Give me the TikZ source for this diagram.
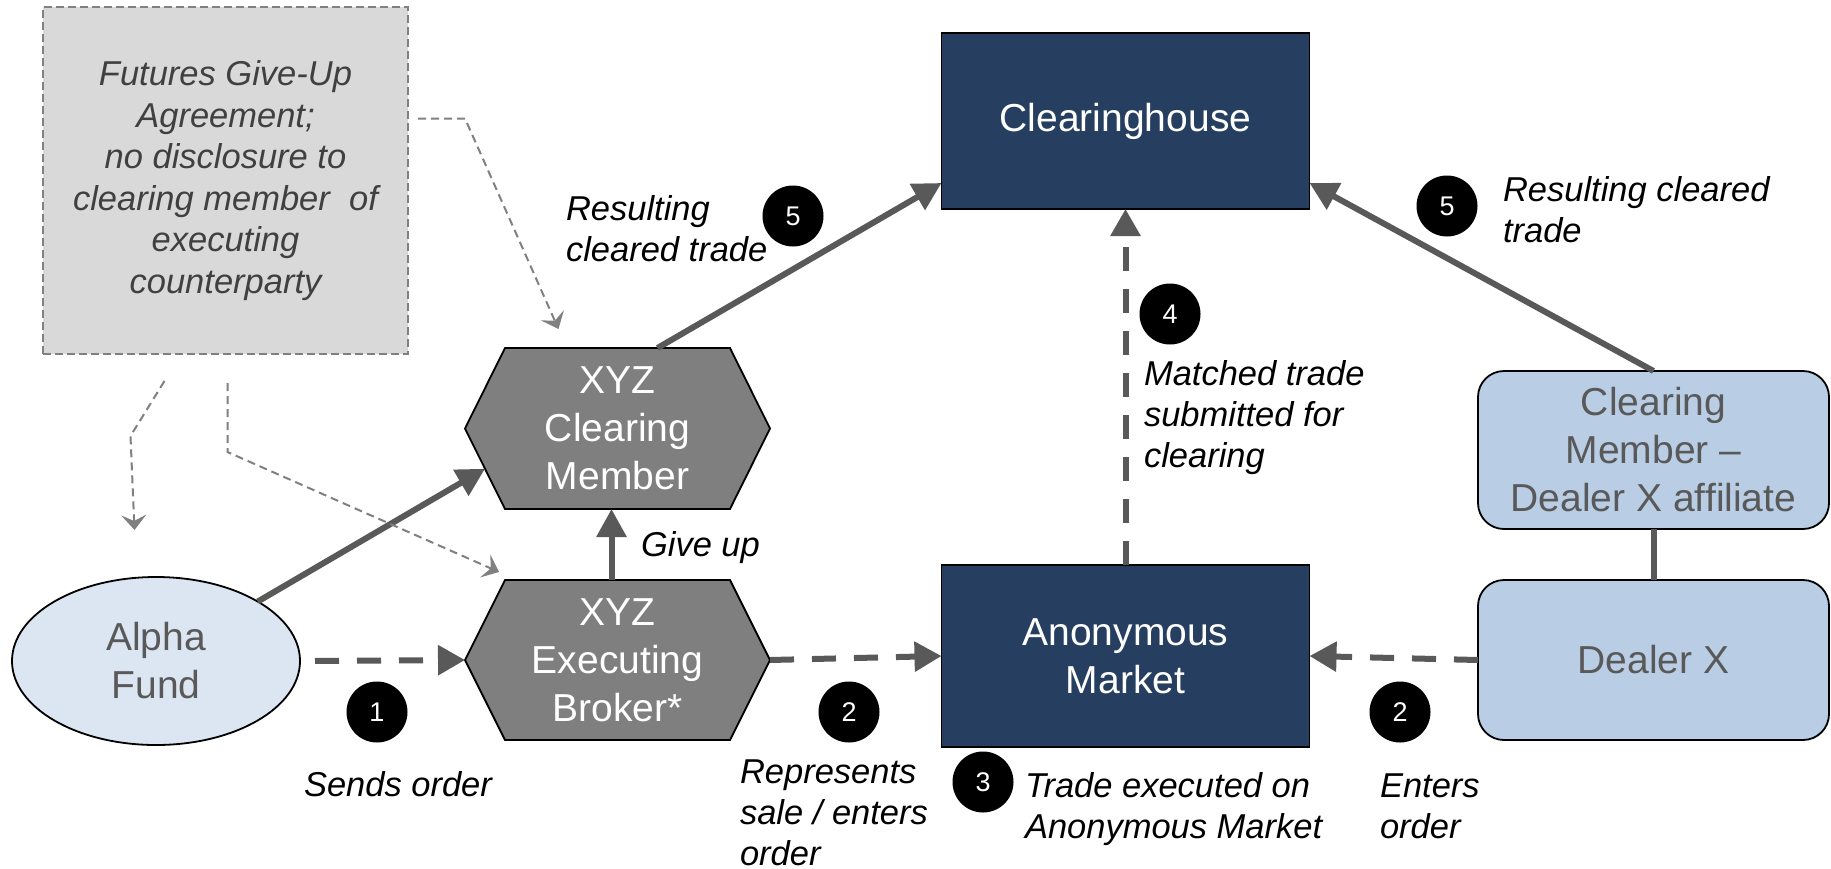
\documentclass[tikz,border=0pt]{standalone}
\usepackage{fontspec}
\setmainfont{Liberation Sans}
\usetikzlibrary{arrows.meta,calc,backgrounds,shapes.geometric}
\definecolor{navy}{RGB}{38,63,96}
\definecolor{hexgray}{RGB}{127,127,127}
\definecolor{linegray}{RGB}{89,89,89}
\definecolor{lightblue}{RGB}{185,205,229}
\definecolor{paleblue}{RGB}{220,230,242}
\definecolor{boxgray}{RGB}{217,217,217}
\definecolor{textgray}{RGB}{89,89,89}
\definecolor{agrtext}{RGB}{64,64,64}
\definecolor{thingray}{RGB}{128,128,128}
\begin{document}
\begin{tikzpicture}[x=1pt,y=-1pt,
  every node/.style={inner sep=0pt, outer sep=0pt},
  nodefont/.style={font=\fontsize{39}{48}\selectfont},
  labfont/.style={font=\fontsize{34.5}{41}\selectfont\itshape},
  darkbox/.style={draw=black, line width=1.8pt, fill=navy, text=white, nodefont, align=center},
  lbbox/.style={draw=black, line width=1.8pt, fill=lightblue, text=textgray, rounded corners=26pt, nodefont, align=center},
  hexspace/.style={minimum width=305pt, minimum height=161pt, text=white, nodefont, align=center},
  hexdraw/.style={draw=black, line width=1.8pt, fill=hexgray},
  numdot/.style={circle, fill=black, text=white, minimum size=61pt, font=\fontsize{27}{27}\selectfont},
  lab/.style={labfont, align=left, anchor=west, text=black},
  thicksolid/.style={draw=linegray, line width=6pt, -{Triangle[length=28pt,width=29pt]}},
  thickdash/.style={draw=linegray, line width=6pt, dash pattern=on 24pt off 18pt, -{Triangle[length=27pt,width=29pt]}},
  thindash/.style={draw=thingray, line width=2pt, dash pattern=on 8pt off 5pt, -{Stealth[length=15pt,width=25pt,inset=6pt]}},
]
\useasboundingbox (0,0) rectangle (1831,868);

% agreement box
\node[draw=thingray, line width=2pt, dash pattern=on 8pt off 4pt, fill=boxgray,
      minimum width=365pt, minimum height=347pt, text=agrtext, align=center,
      font=\fontsize{34.5}{41.5}\selectfont\itshape] (agr) at (225.5,180.5)
  {Futures Give-Up\\Agreement;\\no disclosure to\\clearing member~ of\\executing\\counterparty};

% main nodes
\node[darkbox, minimum width=368pt, minimum height=176pt] (ch) at (1125.5,121) {\raisebox{-3.5pt}{Clearinghouse}};
\node[darkbox, minimum width=368pt, minimum height=182pt] (am) at (1125.5,656) {Anonymous\\Market};
\node[lbbox, minimum width=351pt, minimum height=158pt] (cmd) at (1653.5,450) {Clearing\\Member --\\Dealer X affiliate};
\node[lbbox, minimum width=351pt, minimum height=160pt] (dx) at (1653.5,660) {Dealer X};
\node[ellipse, draw=black, line width=1.8pt, fill=paleblue, minimum width=288pt, minimum height=168pt,
      text=textgray, nodefont, align=center] (af) at (156,661) {Alpha\\Fund};
\node[hexspace] (cm) at (617.5,428.5) {XYZ\\Clearing\\Member};
\node[hexspace, minimum height=160pt] (eb) at (617.5,660) {XYZ\\Executing\\Broker*};

\begin{scope}[on background layer]
  \draw[hexdraw] (cm.west) -- ([xshift=40pt]cm.north west) -- ([xshift=-40pt]cm.north east)
    -- (cm.east) -- ([xshift=-40pt]cm.south east) -- ([xshift=40pt]cm.south west) -- cycle;
  \draw[hexdraw] (eb.west) -- ([xshift=40pt]eb.north west) -- ([xshift=-40pt]eb.north east)
    -- (eb.east) -- ([xshift=-40pt]eb.south east) -- ([xshift=40pt]eb.south west) -- cycle;
\end{scope}

% connectors
\coordinate (cmin) at ($(cm.west)!0.5!([xshift=40pt]cm.south west)$);
\draw[thickdash, shorten <=15pt] (af.east) -- (eb.west);
\draw[thicksolid] (af) -- (cmin);
\draw[thicksolid] ([xshift=-6pt]eb.north) -- ([xshift=-6pt]cm.south);
\draw[thickdash] (eb.east) -- (am.west);
\draw[thickdash] (dx.west) -- (am.east);
\draw[thickdash] (am.north) -- (ch.south);
\draw[thicksolid] ([xshift=40pt]cm.north) -- ([yshift=26pt]ch.south west);
\draw[thicksolid] (cmd.north) -- ([yshift=26pt]ch.south east);
\draw[draw=linegray, line width=6pt] (cmd.south) -- (dx.north);

% thin dashed pointers from agreement
\draw[thindash] ([xshift=10pt,yshift=62pt]agr.east) -- ++(47,0) -- ([xshift=-59pt,yshift=19pt]cm.north);
\draw[thindash] ([xshift=-61pt,yshift=-27pt]agr.south) -- ++(-34,55) -- ++(4,94);
\draw[thindash] ([xshift=2pt,yshift=-29pt]agr.south) -- ++(0,69) -- ([xshift=34pt,yshift=8pt]eb.north west);

% step numbers
\node[numdot] (n5a) at (793,216) {5};
\node[numdot] (n5b) at (1447,206) {5};
\node[numdot] (n4) at (1170,314) {4};
\node[numdot] (n1) at (377,712) {1};
\node[numdot] (n2a) at (849,712) {2};
\node[numdot] (n3) at (983,782) {3};
\node[numdot] (n2b) at (1400,712) {2};

% labels
\node[lab] (l5a) at (566,229) {Resulting\\cleared trade};
\node[lab] (l5b) at (1503,210) {Resulting cleared\\trade};
\node[lab] (l4) at (1144,418) {Matched trade\\submitted for\\clearing};
\node[lab] (l1) at (304,784) {Sends order};
\node[lab] (l2a) at (740,813) {Represents\\sale / enters\\order};
\node[lab] (l3) at (1025,809) {Trade executed on\\Anonymous Market};
\node[lab] (l2b) at (1380,806) {Enters\\order};
\node[lab] (lg) at (641,548) {Give up};
\end{tikzpicture}
\end{document}
